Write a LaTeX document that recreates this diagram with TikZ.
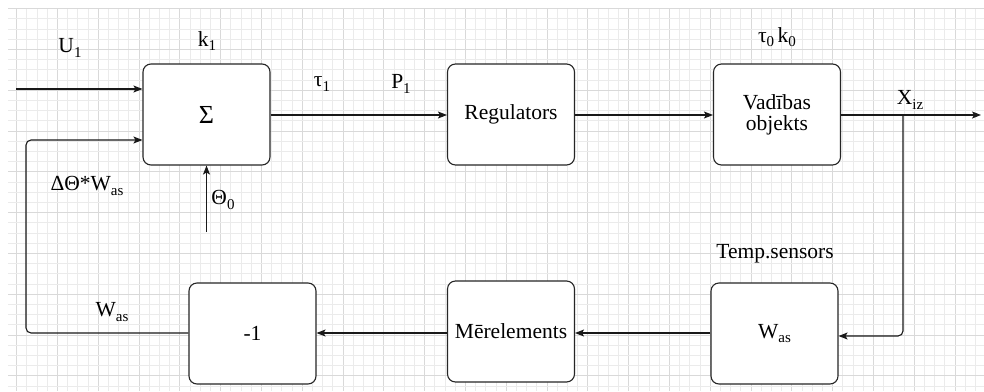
\documentclass[tikz,border=0pt]{standalone}
\usepackage{fontspec}
\setmainfont{Liberation Serif}
\usetikzlibrary{arrows.meta}
% lowered, smaller index text
\newcommand\lo[1]{\raisebox{-0.2em}{\fontsize{15}{15}\selectfont #1}}
\begin{document}
\begin{tikzpicture}[x=1pt,y=-1pt,
  block/.style={draw=black!85, line width=1.1pt, fill=white, rounded corners=8pt,
    minimum width=127pt, minimum height=101pt, inner sep=0pt, align=center,
    font=\fontsize{21.5}{24}\selectfont},
  lbl/.style={font=\fontsize{21.5}{24}\selectfont, inner sep=0pt},
  link/.style={draw=black!90, line width=1.1pt, rounded corners=5pt},
  arr/.style={link, -{Stealth[length=9pt,width=7pt,inset=2pt]}},
  gridminor/.style={draw=black!8, line width=0.6pt},
  gridmajor/.style={draw=black!15, line width=0.6pt}]

% page and background grid
\useasboundingbox (0,0) rectangle (984,391);
\fill[white] (0,0) rectangle (984,391);
\begin{scope}
  \clip (8,8) rectangle (984,391);
  \foreach \i in {0,...,95} {
    \pgfmathtruncatemacro\m{mod(\i,4)}
    \ifnum\m=0
      \draw[gridmajor] ({16.5+\i*10.2},8) -- ({16.5+\i*10.2},391);
    \else
      \draw[gridminor] ({16.5+\i*10.2},8) -- ({16.5+\i*10.2},391);
    \fi
  }
  \foreach \j in {0,...,38} {
    \pgfmathtruncatemacro\m{mod(\j,4)}
    \ifnum\m=0
      \draw[gridmajor] (8,{8.5+\j*10.2}) -- (984,{8.5+\j*10.2});
    \else
      \draw[gridminor] (8,{8.5+\j*10.2}) -- (984,{8.5+\j*10.2});
    \fi
  }
\end{scope}

% blocks
\node[block] (sum) at (206.5,114.5) {\fontsize{26}{28}\selectfont Σ};
\node[block] (reg) at (511,114.5) {Regulators};
\node[block] (obj) at (777,114.5) {Vadības\\[-3pt]objekts};
\node[block] (sens) at (774.5,333.5) {W\lo{as}};
\node[block] (meas) at (511,331.5) {Mērelements};
\node[block] (inv) at (252.5,333.5) {-1};

% free ends of connectors
\coordinate (uin) at (16,89);
\coordinate (thin) at (206.5,232);
\coordinate (xout) at (981,115);
\coordinate (tap) at (903,115);
\coordinate (fbl) at (26,333);

% connectors
\draw[arr] (uin) -- (uin -| sum.west);
\draw[arr] (thin) -- (sum.south);
\draw[arr] (sum.east |- 0,115) -- (reg.west |- 0,115);
\draw[arr] (reg.east |- 0,115) -- (obj.west |- 0,115);
\draw[arr] (obj.east |- 0,115) -- (xout);
\draw[arr] (tap) -- (tap |- 0,336) -- (sens.east |- 0,336);
\draw[arr] (sens.west |- 0,333) -- (meas.east |- 0,333);
\draw[arr] (meas.west |- 0,333) -- (inv.east |- 0,333);
\draw[arr] (inv.west |- 0,333) -- (fbl) -- (fbl |- 0,140) -- (sum.west |- 0,140);

% signal labels
\node[lbl] (lu) at (70,48) {U\lo{1}};
\node[lbl] (lk) at (207,41) {k\lo{1}};
\node[lbl] (lt) at (322,84) {τ\lo{1}};
\node[lbl] (lp) at (401,84) {P\lo{1}};
\node[lbl] (ltk) at (777,37) {τ\lo{0}\,k\lo{0}};
\node[lbl] (lx) at (910,100) {X\lo{iz}};
\node[lbl] (ldw) at (87,186) {ΔΘ*W\lo{as}};
\node[lbl] (lth) at (223,200) {Θ\lo{0}};
\node[lbl] (lts) at (775,254) {Temp.sensors};
\node[lbl] (lw) at (112,312) {W\lo{as}};
\end{tikzpicture}
\end{document}
